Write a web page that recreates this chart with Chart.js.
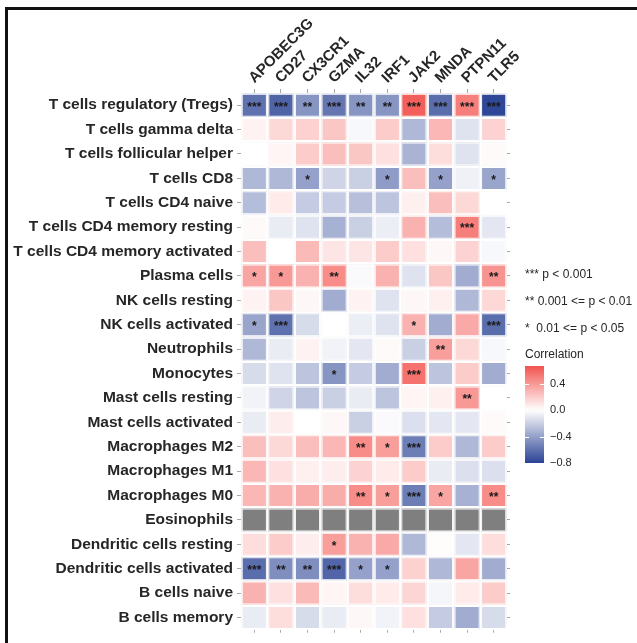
<!DOCTYPE html>
<html>
<head>
<meta charset="utf-8">
<script src="https://cdn.jsdelivr.net/npm/chart.js@4.4.1/dist/chart.umd.min.js"></script>
<style>
  html, body { margin: 0; padding: 0; background: #fff; }
  #wrap { position: relative; width: 637px; height: 643px; overflow: hidden; }
  #frame { position: absolute; left: 5px; top: 7px; right: -20px; bottom: -20px;
           border-top: 3px solid #111; border-left: 3px solid #111; pointer-events: none; }
  canvas { position: absolute; left: 0; top: 0; }
</style>
</head>
<body>
<div id="wrap">
  <canvas id="heat" width="637" height="643"></canvas>
  <div id="frame"></div>
</div>
<script>
// Genes (columns) and immune cell types (rows)
const genes = ['APOBEC3G', 'CD27', 'CX3CR1', 'GZMA', 'IL32', 'IRF1', 'JAK2', 'MNDA', 'PTPN11', 'TLR5'];
const cellTypes = [
  'T cells regulatory (Tregs)', 'T cells gamma delta', 'T cells follicular helper', 'T cells CD8',
  'T cells CD4 naive', 'T cells CD4 memory resting', 'T cells CD4 memory activated', 'Plasma cells',
  'NK cells resting', 'NK cells activated', 'Neutrophils', 'Monocytes', 'Mast cells resting',
  'Mast cells activated', 'Macrophages M2', 'Macrophages M1', 'Macrophages M0', 'Eosinophils',
  'Dendritic cells resting', 'Dendritic cells activated', 'B cells naive', 'B cells memory'
];

// Correlation per gene, one value per cell type (null = not computable)
const rAPOBEC3G = [-0.60, 0.05, 0.00, -0.30, -0.28, 0.02, 0.25, 0.35, 0.05, -0.38, -0.30, -0.15, -0.05, -0.08, 0.25, 0.28, 0.28, null, 0.13, -0.62, 0.30, -0.08];
const rCD27     = [-0.66, 0.15, 0.04, -0.30, 0.08, -0.08, 0.00, 0.40, 0.22, -0.60, -0.08, -0.12, -0.18, 0.07, 0.15, 0.12, 0.30, null, 0.20, -0.48, 0.12, 0.13];
const rCX3CR1   = [-0.45, 0.18, 0.20, -0.40, -0.22, -0.12, 0.27, 0.30, 0.03, -0.15, 0.05, -0.25, -0.25, 0.00, 0.25, 0.06, 0.32, null, 0.07, -0.48, 0.27, -0.15];
const rGZMA     = [-0.58, 0.22, 0.25, -0.18, -0.22, -0.33, 0.10, 0.45, -0.35, 0.00, -0.05, -0.45, -0.20, 0.03, 0.28, 0.07, 0.32, null, 0.38, -0.65, 0.04, -0.08];
const rIL32     = [-0.45, -0.03, 0.22, -0.20, -0.27, -0.20, 0.10, -0.02, 0.05, -0.07, -0.10, -0.22, -0.08, -0.20, 0.45, 0.17, 0.45, null, 0.30, -0.40, 0.13, 0.03];
const rIRF1     = [-0.45, 0.20, 0.12, -0.42, -0.25, -0.07, 0.20, 0.30, -0.12, -0.12, 0.02, -0.35, -0.25, -0.02, 0.38, 0.08, 0.38, null, 0.33, -0.40, 0.08, -0.05];
const rJAK2     = [0.62, -0.30, -0.32, 0.25, 0.06, 0.30, 0.12, -0.12, 0.03, 0.30, -0.20, 0.55, 0.04, -0.13, -0.55, 0.20, -0.55, null, -0.30, 0.18, 0.16, 0.12];
const rMNDA     = [-0.62, 0.28, 0.13, -0.40, 0.25, -0.28, 0.03, 0.22, 0.06, -0.35, 0.38, -0.25, 0.06, -0.10, 0.20, -0.08, 0.35, null, 0.01, -0.30, -0.04, -0.22];
const rPTPN11   = [0.50, -0.12, -0.12, -0.06, 0.15, 0.50, 0.17, -0.35, -0.30, 0.33, 0.15, 0.20, 0.40, -0.10, -0.30, -0.13, -0.33, null, -0.10, 0.35, 0.08, -0.35];
const rTLR5     = [-0.78, 0.17, 0.02, -0.38, 0.00, -0.10, -0.03, 0.42, 0.15, -0.62, -0.03, -0.35, 0.00, 0.02, 0.20, -0.13, 0.45, null, 0.13, -0.35, 0.20, -0.15];

// Significance marks per gene, one per cell type
const sAPOBEC3G = ['***','','','','','','','*','','*','','','','','','','','','','***','',''];
const sCD27     = ['***','','','','','','','*','','***','','','','','','','','','','**','',''];
const sCX3CR1   = ['**','','','*','','','','','','','','','','','','','','','','**','',''];
const sGZMA     = ['***','','','','','','','**','','','','*','','','','','','','*','***','',''];
const sIL32     = ['**','','','','','','','','','','','','','','**','','**','','','*','',''];
const sIRF1     = ['**','','','*','','','','','','','','','','','*','','*','','','*','',''];
const sJAK2     = ['***','','','','','','','','','*','','***','','','***','','***','','','','',''];
const sMNDA     = ['***','','','*','','','','','','','**','','','','','','*','','','','',''];
const sPTPN11   = ['***','','','','','***','','','','','','','**','','','','','','','','',''];
const sTLR5     = ['***','','','*','','','','**','','***','','','','','','','**','','','','',''];

// Colour-bar labels and significance key
const legendTicks = [0.4, 0.0, -0.4, -0.8];
const legendTickText = ['0.4', '0.0', '\u22120.4', '\u22120.8'];
const starNotes = ['*** p < 0.001', '** 0.001 <= p < 0.01', '*  0.01 <= p < 0.05'];

const corr = [rAPOBEC3G, rCD27, rCX3CR1, rGZMA, rIL32, rIRF1, rJAK2, rMNDA, rPTPN11, rTLR5];
const stars = [sAPOBEC3G, sCD27, sCX3CR1, sGZMA, sIL32, sIRF1, sJAK2, sMNDA, sPTPN11, sTLR5];

const LOW = [42, 66, 148], HIGH = [240, 50, 44], LIMIT = 0.8;
function colourRGB(v) {
  const t = Math.min(1, Math.abs(v) / LIMIT);
  const end = v < 0 ? LOW : HIGH;
  return end.map(c => Math.round(255 + (c - 255) * t));
}
function fillColour(v) {
  if (v === null) return '#7f7f7f';
  const c = colourRGB(v);
  return `rgb(${c[0]},${c[1]},${c[2]})`;
}
function edgeColour(v) {
  if (v === null) return '#505050';
  const c = colourRGB(v * 1.15 + Math.sign(v) * 0.04).map(x => Math.round(x * 0.92));
  return `rgb(${c[0]},${c[1]},${c[2]})`;
}

const datasets = genes.map((g, j) => ({
  label: g,
  data: cellTypes.map(() => [j - 0.5, j + 0.5]),
  backgroundColor: corr[j].map(fillColour),
  borderColor: corr[j].map(edgeColour),
  borderWidth: 1,
  borderSkipped: false,
  inflateAmount: -0.7,
  categoryPercentage: 1,
  barPercentage: 1,
  grouped: false
}));

const FONT = "'Liberation Sans', Arial, sans-serif";
const TEXT = '#262626';
const TICK = '#a8a8a8';

// Significance marks inside the cells
const starPlugin = {
  id: 'stars',
  afterDatasetsDraw(chart) {
    const ctx = chart.ctx;
    ctx.save();
    ctx.fillStyle = '#1a1a1a';
    ctx.font = `bold 12px ${FONT}`;
    ctx.textAlign = 'center';
    ctx.textBaseline = 'middle';
    genes.forEach((g, j) => {
      const meta = chart.getDatasetMeta(j);
      meta.data.forEach((bar, i) => {
        const s = stars[j][i];
        if (!s) return;
        const cx = (bar.x + bar.base) / 2;
        ctx.fillText(s, cx, bar.y + 2);
      });
    });
    ctx.restore();
  }
};

// Significance key and colour bar
const keyPlugin = {
  id: 'key',
  afterDraw(chart) {
    const ctx = chart.ctx;
    const x0 = chart.chartArea.right + 18;
    ctx.save();
    ctx.fillStyle = TEXT;
    ctx.font = `12px ${FONT}`;
    ctx.textAlign = 'left';
    ctx.textBaseline = 'middle';
    starNotes.forEach((t, k) => ctx.fillText(t, x0, 275 + k * 26.7));
    ctx.fillText('Correlation', x0, 355);

    const top = 366, bottom = 463, vTop = 0.67, vBot = -0.8;
    const y = v => top + (vTop - v) / (vTop - vBot) * (bottom - top);
    const w = 19;
    const grad = ctx.createLinearGradient(0, top, 0, bottom);
    for (let k = 0; k <= 30; k++) {
      const v = vTop + (vBot - vTop) * k / 30;
      grad.addColorStop(k / 30, fillColour(v));
    }
    ctx.fillStyle = grad;
    ctx.fillRect(x0, top, w, bottom - top);
    ctx.strokeStyle = '#fff';
    ctx.lineWidth = 1;
    legendTicks.forEach((v, k) => {
      const yy = Math.round(y(v)) + 0.5;
      if (v > vBot) {
        ctx.beginPath();
        ctx.moveTo(x0, yy); ctx.lineTo(x0 + 4, yy);
        ctx.moveTo(x0 + w - 4, yy); ctx.lineTo(x0 + w, yy);
        ctx.stroke();
      }
      ctx.fillStyle = TEXT;
      ctx.font = `11px ${FONT}`;
      ctx.fillText(legendTickText[k], x0 + w + 6, y(v));
    });
    ctx.restore();
  }
};

// Column axes: one tick at the centre of each gene column
const geneTicks = s => { s.ticks = genes.map((g, i) => ({ value: i })); };

new Chart(document.getElementById('heat'), {
  type: 'bar',
  data: { labels: cellTypes, datasets },
  options: {
    indexAxis: 'y',
    responsive: false,
    animation: false,
    events: [],
    layout: { padding: { left: 0, right: 126, top: 0, bottom: 0 } },
    plugins: { legend: { display: false }, tooltip: { enabled: false } },
    scales: {
      x: {
        type: 'linear', min: -0.5, max: 9.5,
        position: 'top',
        border: { display: false },
        grid: { drawOnChartArea: false, drawTicks: true, tickLength: 4, tickColor: TICK },
        afterBuildTicks: geneTicks,
        ticks: {
          autoSkip: false,
          minRotation: 45, maxRotation: 45, padding: 2, labelOffset: 10,
          color: TEXT, font: { family: FONT, size: 15, weight: 'bold' },
          callback: v => genes[v]
        },
        afterFit: s => { s.height = 93; }
      },
      xb: {
        type: 'linear', min: -0.5, max: 9.5,
        position: 'bottom',
        border: { display: false },
        grid: { drawOnChartArea: false, drawTicks: true, tickLength: 3, tickColor: TICK },
        afterBuildTicks: geneTicks,
        ticks: { display: false },
        afterFit: s => { s.height = 4; }
      },
      y: {
        type: 'category',
        position: 'left',
        border: { display: false },
        grid: { drawOnChartArea: false, drawTicks: true, tickLength: 4, tickColor: TICK, offset: false },
        ticks: { autoSkip: false, padding: 4, color: TEXT, font: { family: FONT, size: 15.5, weight: 'bold' } },
        afterFit: s => { s.width = 241; }
      },
      yr: {
        type: 'category',
        labels: cellTypes,
        position: 'right',
        border: { display: false },
        grid: { drawOnChartArea: false, drawTicks: true, tickLength: 3, tickColor: TICK, offset: false },
        ticks: { display: false },
        afterFit: s => { s.width = 4; }
      }
    }
  },
  plugins: [starPlugin, keyPlugin]
});
</script>
</body>
</html>
